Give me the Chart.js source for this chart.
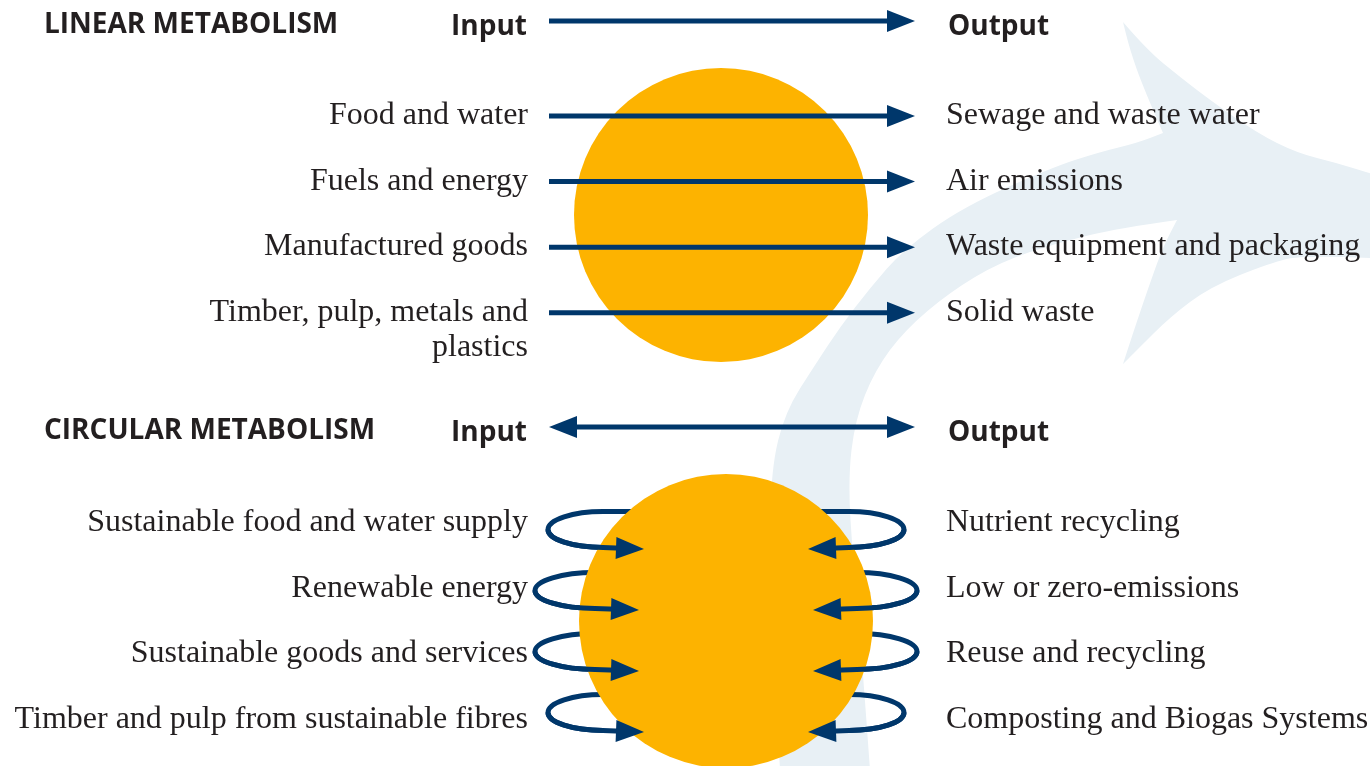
<!DOCTYPE html>
<html>
<head>
<meta charset="utf-8">
<script src="https://cdn.jsdelivr.net/npm/chart.js@4"></script>
<style>
  body { margin: 0; background: #ffffff; }
  #chart { display: block; }
</style>
</head>
<body>
<canvas id="chart" width="1370" height="766"></canvas>
<script>
// Labels
const sections = ['LINEAR METABOLISM', 'CIRCULAR METABOLISM'];
const flowEnds = ['Input', 'Output'];
const linearInputs = ['Food and water', 'Fuels and energy', 'Manufactured goods', 'Timber, pulp, metals and\nplastics'];
const linearOutputs = ['Sewage and waste water', 'Air emissions', 'Waste equipment and packaging', 'Solid waste'];
const circularInputs = ['Sustainable food and water supply', 'Renewable energy', 'Sustainable goods and services', 'Timber and pulp from sustainable fibres'];
const circularOutputs = ['Nutrient recycling', 'Low or zero-emissions', 'Reuse and recycling', 'Composting and Biogas Systems'];

// Colours
const NAVY = '#00376b';
const SUN = '#fdb300';
const PALE = '#e8f0f5';
const INK = '#231f20';

// Layout (in scale units, the scales run 0..1370 and 0..766)
const ROW_GAP = 65.6;
const layout = [
  { titleY: 33, firstRow: 124, hub: { x: 721, y: 215, r: 147 }, inputs: linearInputs, outputs: linearOutputs, circular: false },
  { titleY: 439, firstRow: 531, hub: { x: 726, y: 621, r: 147 }, inputs: circularInputs, outputs: circularOutputs, circular: true }
];
const ARROW_FROM = 549, ARROW_TO = 915;
const LOOP_REACH = [178, 191, 191, 178];
const LOOP_RX = [55, 60, 60, 55];
const LOOP_TIP = [82, 87, 87, 82];

function head(ctx, x, y, ang, len, half) {
  ctx.save();
  ctx.translate(x, y);
  ctx.rotate(ang);
  ctx.beginPath();
  ctx.moveTo(0, 0);
  ctx.lineTo(-len, -half);
  ctx.lineTo(-len, half);
  ctx.closePath();
  ctx.fill();
  ctx.restore();
}

function smooth(ctx, pts) {
  for (let i = 1; i < pts.length - 1; i++) {
    const mx = (pts[i][0] + pts[i + 1][0]) / 2, my = (pts[i][1] + pts[i + 1][1]) / 2;
    ctx.quadraticCurveTo(pts[i][0], pts[i][1], mx, my);
  }
  const last = pts[pts.length - 1];
  ctx.lineTo(last[0], last[1]);
}

// big pale arrow behind everything
function drawSwoosh(ctx, X, Y) {
  const P = (a) => a.map(p => [X(p[0]), Y(p[1])]);
  const edges = [
    [[1123, 22], [1147, 50], [1180, 77], [1210, 100], [1257, 133], [1297, 153], [1337, 163], [1372, 174]],
    [[1372, 174], [1372, 258]],
    [[1372, 258], [1303, 255], [1270, 263], [1210, 287], [1170, 317], [1137, 350], [1123, 364]],
    [[1123, 364], [1133, 333], [1150, 283], [1163, 247], [1177, 220]],
    [[1177, 220], [1120, 228], [1060, 242], [1000, 262], [950, 292], [905, 330], [875, 370], [855, 420], [848, 480], [853, 560], [862, 660], [870, 770]],
    [[870, 770], [780, 770]],
    [[780, 770], [774, 660], [770, 560], [771, 470], [785, 412], [815, 365], [840, 327], [870, 288], [903, 250], [963, 207], [1053, 167], [1100, 152], [1137, 143], [1163, 133]],
    [[1163, 133], [1143, 87], [1130, 50], [1123, 22]]
  ];
  ctx.save();
  ctx.fillStyle = PALE;
  ctx.beginPath();
  const start = P(edges[0])[0];
  ctx.moveTo(start[0], start[1]);
  edges.forEach(e => smooth(ctx, P(e)));
  ctx.closePath();
  ctx.fill();
  ctx.restore();
}

function loopGeom(hub, i, side, X, Y) {
  const mid = hub.y + (i - 1.5) * 61;
  const ry = 18;
  const outer = hub.x + side * LOOP_REACH[i];
  const ex = outer - side * LOOP_RX[i];
  return {
    cx: X(hub.x), top: Y(mid - ry), mid: Y(mid), bottom: Y(mid + ry),
    ex: X(ex), rx: Math.abs(X(outer) - X(ex)), ry: Math.abs(Y(mid + ry) - Y(mid)),
    tipX: X(hub.x + side * LOOP_TIP[i]), tipY: Y(mid + ry + 1.5)
  };
}

const metabolism = {
  id: 'metabolism',
  beforeDatasetsDraw(chart) {
    const ctx = chart.ctx;
    const X = v => chart.scales.x.getPixelForValue(v);
    const Y = v => chart.scales.y.getPixelForValue(v);
    drawSwoosh(ctx, X, Y);
    // back halves of the loops, hidden by the hub
    ctx.save();
    ctx.strokeStyle = NAVY;
    ctx.lineWidth = 5;
    const sec = layout[1];
    sec.inputs.forEach((_, i) => {
      [-1, 1].forEach(side => {
        const g = loopGeom(sec.hub, i, side, X, Y);
        ctx.beginPath();
        ctx.moveTo(g.cx, g.top);
        ctx.lineTo(g.ex, g.top);
        ctx.ellipse(g.ex, g.mid, g.rx, g.ry, 0, -Math.PI / 2, Math.PI / 2, side < 0);
        ctx.stroke();
      });
    });
    ctx.restore();
  },
  afterDatasetsDraw(chart) {
    const ctx = chart.ctx;
    const X = v => chart.scales.x.getPixelForValue(v);
    const Y = v => chart.scales.y.getPixelForValue(v);
    ctx.save();
    ctx.strokeStyle = NAVY;
    ctx.fillStyle = NAVY;
    ctx.lineWidth = 5;

    layout.forEach((sec, s) => {
      // header arrow
      const hy = Y(sec.titleY - 12);
      ctx.beginPath();
      ctx.moveTo(X(ARROW_FROM) + (sec.circular ? 20 : 0), hy);
      ctx.lineTo(X(ARROW_TO) - 20, hy);
      ctx.stroke();
      head(ctx, X(ARROW_TO), hy, 0, 28, 11);
      if (sec.circular) head(ctx, X(ARROW_FROM), hy, Math.PI, 28, 11);

      if (!sec.circular) {
        sec.inputs.forEach((_, i) => {
          const ay = Y(sec.firstRow + i * ROW_GAP - 8);
          ctx.beginPath();
          ctx.moveTo(X(ARROW_FROM), ay);
          ctx.lineTo(X(ARROW_TO) - 20, ay);
          ctx.stroke();
          head(ctx, X(ARROW_TO), ay, 0, 28, 11);
        });
      } else {
        sec.inputs.forEach((_, i) => {
          [-1, 1].forEach(side => {
            const g = loopGeom(sec.hub, i, side, X, Y);
            const ang = Math.atan2(g.tipY - g.bottom, g.tipX - g.ex);
            ctx.beginPath();
            ctx.ellipse(g.ex, g.mid, g.rx, g.ry, 0, side < 0 ? Math.PI : 0, Math.PI / 2, side < 0);
            ctx.lineTo(g.tipX - Math.cos(ang) * 22, g.tipY - Math.sin(ang) * 22);
            ctx.stroke();
            head(ctx, g.tipX, g.tipY, ang, 28, 11);
          });
        });
      }
    });

    // text
    ctx.fillStyle = INK;
    ctx.textBaseline = 'alphabetic';
    layout.forEach((sec, s) => {
      ctx.font = 'bold 28px "Open Sans", sans-serif';
      ctx.textAlign = 'left';
      ctx.fillText(sections[s], X(44), Y(sec.titleY));
      ctx.textAlign = 'right';
      ctx.fillText(flowEnds[0], X(527), Y(sec.titleY + 2));
      ctx.textAlign = 'left';
      ctx.fillText(flowEnds[1], X(948), Y(sec.titleY + 2));

      ctx.font = '32px "Liberation Serif", "Times New Roman", serif';
      sec.inputs.forEach((label, i) => {
        const by = sec.firstRow + i * ROW_GAP;
        ctx.textAlign = 'right';
        label.split('\n').forEach((line, k) => ctx.fillText(line, X(528), Y(by + k * 35)));
        ctx.textAlign = 'left';
        ctx.fillText(sec.outputs[i], X(946), Y(by));
      });
    });
    ctx.restore();
  }
};

new Chart(document.getElementById('chart'), {
  type: 'bubble',
  data: {
    datasets: [{
      label: 'Metabolism',
      data: layout.map(sec => ({ x: sec.hub.x, y: sec.hub.y, r: sec.hub.r })),
      backgroundColor: SUN,
      borderWidth: 0,
      hoverRadius: 0,
      hoverBorderWidth: 0,
      clip: false
    }]
  },
  options: {
    responsive: false,
    animation: false,
    layout: { padding: 0, autoPadding: false },
    plugins: { legend: { display: false }, tooltip: { enabled: false } },
    scales: {
      x: { type: 'linear', min: 0, max: 1370, display: false },
      y: { type: 'linear', min: 0, max: 766, reverse: true, display: false }
    },
    events: []
  },
  plugins: [metabolism]
});
</script>
</body>
</html>
